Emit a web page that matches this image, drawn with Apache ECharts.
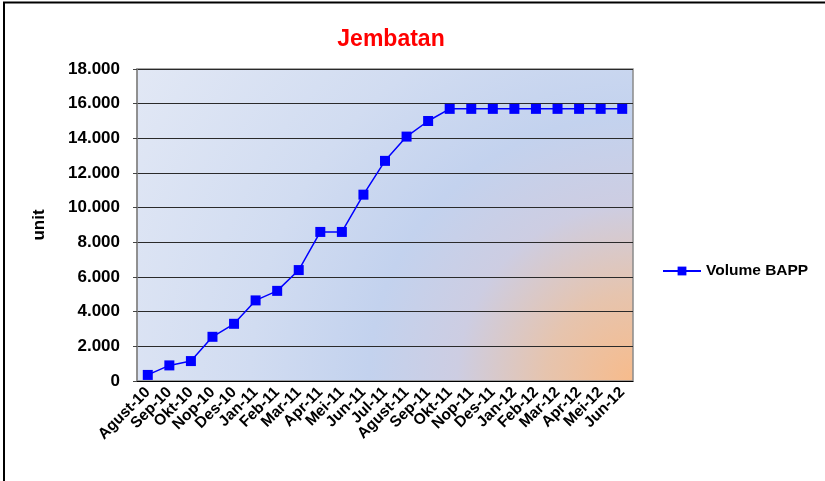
<!DOCTYPE html>
<html lang="en">
<head>
    <meta charset="UTF-8">
    <title>Jembatan</title>
    <script type="text/javascript" src="https://cdn.jsdelivr.net/npm/echarts@6/dist/echarts.min.js"></script>
    <style>
        html, body { margin: 0; padding: 0; background: #fff; }
    </style>
</head>
<body>
<div id="main" style="width:825px;height:481px;"></div>

<script type="text/javascript">
    // bulan (sumbu x)
    var bulan = ['Agust-10', 'Sep-10', 'Okt-10', 'Nop-10', 'Des-10', 'Jan-11', 'Feb-11', 'Mar-11',
        'Apr-11', 'Mei-11', 'Jun-11', 'Jul-11', 'Agust-11', 'Sep-11', 'Okt-11', 'Nop-11', 'Des-11',
        'Jan-12', 'Feb-12', 'Mar-12', 'Apr-12', 'Mei-12', 'Jun-12'];
    // volume BAPP (unit)
    var volumeBAPP = [350, 900, 1150, 2550, 3300, 4650, 5200, 6400, 8600, 8600, 10750, 12700,
        14100, 15000, 15700, 15700, 15700, 15700, 15700, 15700, 15700, 15700, 15700];
    var yMin = 0, yMax = 18000, yStep = 2000;

    var font = "'Liberation Sans', Arial, sans-serif";

    function titik(v) {
        return String(v).replace(/\B(?=(\d{3})+(?!\d))/g, '.');
    }

    var myChart = echarts.init(document.getElementById('main'));

    var option = {
        backgroundColor: '#fff',
        animation: false,
        title: {
            text: 'Jembatan',
            left: 386,
            textAlign: 'center',
            top: 23,
            textStyle: { color: '#ff0000', fontSize: 23, fontWeight: 'bold', fontFamily: font }
        },
        legend: {
            orient: 'vertical',
            left: 657,
            top: 258,
            itemWidth: 38,
            itemHeight: 11,
            itemGap: 5,
            textStyle: { color: '#000', fontSize: 15.5, fontWeight: 'bold', fontFamily: font },
            data: ['Volume BAPP']
        },
        grid: {
            left: 137,
            right: 192,
            top: 69,
            bottom: 100,
            show: true,
            borderColor: '#8a8a8a',
            borderWidth: 1.5,
            backgroundColor: new echarts.graphic.RadialGradient(1, 1, 1.88, [
                { offset: 0, color: '#f7bb8b' },
                { offset: 0.15, color: '#e6c4ae' },
                { offset: 0.3, color: '#cdcde2' },
                { offset: 0.45, color: '#c3d2ee' },
                { offset: 0.65, color: '#d1dcf1' },
                { offset: 1, color: '#e2e8f5' }
            ])
        },
        xAxis: {
            type: 'category',
            data: bulan,
            boundaryGap: true,
            axisLine: { lineStyle: { color: '#000', width: 1 } },
            axisTick: { show: false },
            axisLabel: {
                rotate: 45,
                interval: 0,
                margin: 9,
                color: '#000',
                fontSize: 15.5,
                fontWeight: 'bold',
                fontFamily: font
            }
        },
        yAxis: {
            type: 'value',
            min: yMin,
            max: yMax,
            interval: yStep,
            name: 'unit',
            nameLocation: 'middle',
            nameGap: 89,
            nameRotate: 90,
            nameTextStyle: { color: '#000', fontSize: 17, fontWeight: 'bold', fontFamily: font },
            axisLine: { show: true, lineStyle: { color: '#8a8a8a', width: 1.5 } },
            axisTick: { show: true, length: 4, lineStyle: { color: '#444' } },
            splitLine: { lineStyle: { color: '#2a2a2a', width: 1 } },
            axisLabel: {
                margin: 17,
                color: '#000',
                fontSize: 17,
                fontWeight: 'bold',
                fontFamily: font,
                formatter: titik
            }
        },
        series: [{
            name: 'Volume BAPP',
            type: 'line',
            data: volumeBAPP,
            symbol: 'rect',
            symbolSize: 10,
            itemStyle: { color: '#0000ff' },
            lineStyle: { color: '#0000ff', width: 1.5 }
        }],
        graphic: [{
            type: 'rect',
            shape: { x: 4, y: 2.5, width: 1000, height: 1000 },
            style: { fill: 'none', stroke: '#000', lineWidth: 2 },
            silent: true
        }]
    };

    myChart.setOption(option);
</script>
</body>
</html>
